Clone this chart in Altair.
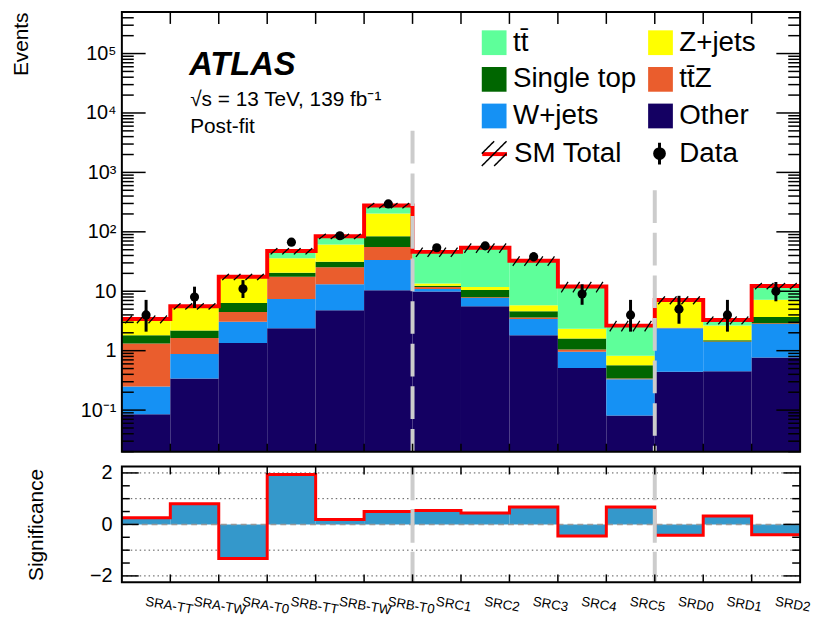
import json
import altair as alt
import pandas as pd

# ---------------- data ----------------
bins = ["SRA-TT", "SRA-TW", "SRA-T0", "SRB-TT", "SRB-TW", "SRB-T0", "SRC1",
        "SRC2", "SRC3", "SRC4", "SRC5", "SRD0", "SRD1", "SRD2"]
other      = [0.085, 0.34, 1.35, 2.38, 4.77, 10.4, 9.9, 5.6, 1.81, 0.51, 0.081, 0.44, 0.45, 0.77]
wjets      = [0.165, 0.54, 1.72, 5.0, 8.4, 23.1, 1.0, 2.1, 1.6, 0.45, 0.25, 1.94, 0.95, 2.03]
ttz        = [1.07, 0.75, 1.41, 10.1, 12.2, 22.0, 0.9, 0.25, 0.2, 0.09, 0.01, 0.02, 0.03, 0.1]
single_top = [0.49, 0.55, 1.87, 3.0, 6.1, 28.5, 0.6, 2.55, 1.0, 0.55, 0.23, 0.02, 0.07, 0.8]
zjets      = [1.54, 3.32, 10.95, 15.5, 29.5, 119.0, 1.1, 1.3, 1.2, 0.73, 0.25, 4.5, 1.14, 3.5]
ttbar      = [0.05, 0.1, 0.2, 11.5, 23.0, 74.0, 32.5, 42.2, 26.9, 9.67, 1.82, 0.2, 0.63, 5.1]
sm_rel_unc = [0.15, 0.12, 0.12, 0.12, 0.10, 0.10, 0.18, 0.18, 0.18, 0.2, 0.2, 0.15, 0.15, 0.12]
data_obs   = [4, 8, 11, 67, 86, 295, 54, 58, 38, 9, 4, 5, 4, 10]
data_lo    = [2.09, 5.23, 7.71, 58.8, 76.8, 278.0, 46.7, 50.4, 31.9, 5.92, 2.09, 2.84, 2.09, 6.78]
data_hi    = [7.16, 11.94, 15.41, 76.2, 96.3, 313.0, 62.4, 66.7, 45.2, 13.1, 7.16, 8.38, 7.16, 14.3]
significance = [0.26, 0.8, -1.32, 1.94, 0.19, 0.5, 0.54, 0.44, 0.68, -0.45, 0.68, -0.42, 0.33, -0.4]
separator_pos = [6, 11]
separator_top = [5000, 500]

stack_order = ["Other", "W+jets", "tt\u0304Z", "Single top", "Z+jets", "tt\u0304"]
stack_vals = [other, wjets, ttz, single_top, zjets, ttbar]
legend_order = ["tt\u0304", "Z+jets", "Single top", "tt\u0304Z", "W+jets", "Other"]
legend_colors = ["#5EFF9A", "#FFFF00", "#006600", "#EA5D2D", "#1591F4", "#140062"]

FONT = "Liberation Sans"
W, H, H2 = 685, 444, 117
YMIN, YMAX = 0.02, 5e5

# ---------------- tables ----------------
rows = []
totals = []
for i, b in enumerate(bins):
    base = 0.0
    for proc, vals in zip(stack_order, stack_vals):
        top = base + vals[i]
        rows.append(dict(bin=b, x0=i, x1=i + 1, y0=base if base > 0 else 1e-4, y1=top, process=proc))
        base = top
    totals.append(base)
stack_df = pd.DataFrame(rows)

step_df = pd.DataFrame({"x": list(range(len(bins) + 1)),
                        "y": totals + [totals[-1]],
                        "lbl": "SM Total"})

hatch_rows = []
for i, t in enumerate(totals):
    for k in range(4):
        xa = i + 0.07 + 0.24 * k
        hatch_rows.append(dict(xa=xa, xb=xa + 0.14, ya=t * (1 - sm_rel_unc[i]),
                               yb=t * (1 + sm_rel_unc[i]), lbl_h="SM Total hatch"))
hatch_df = pd.DataFrame(hatch_rows)

data_df = pd.DataFrame({"x": [i + 0.5 for i in range(len(bins))], "n": data_obs,
                        "lo": data_lo, "hi": data_hi, "lbl_d": "Data"})

sep_df = pd.DataFrame({"x": separator_pos, "top": separator_top, "bottom": [YMIN] * 2})

sig_df = pd.DataFrame({"x0": list(range(len(bins))), "x1": [i + 1 for i in range(len(bins))],
                       "zero": 0.0, "sig": significance})
sig_step = pd.DataFrame({"x": list(range(len(bins) + 1)), "y": significance + [significance[-1]]})

one = pd.DataFrame({"a": [0]})

xs = alt.Scale(domain=[0, len(bins)], nice=False, zero=False)
ys = alt.Scale(type="log", domain=[YMIN, YMAX], nice=False, clamp=True)
ys2 = alt.Scale(domain=[-2.25, 2.25], nice=False, zero=False)

major = [0.1, 1, 10, 100, 1e3, 1e4, 1e5]
minor = [m * 10 ** k for k in range(-2, 6) for m in range(2, 10) if YMIN <= m * 10 ** k <= YMAX]
edges = list(range(1, len(bins)))

label_expr = ("datum.value < 0.5 ? '10\u207b\u00b9' : datum.value < 5 ? '1' : datum.value < 50 ? '10' : "
              "datum.value < 500 ? '10\u00b2' : datum.value < 5000 ? '10\u00b3' : "
              "datum.value < 50000 ? '10\u2074' : '10\u2075'")

# shared axis definitions (identical in every layer so they merge)
y_axis_main = alt.Axis(
    values=major, labelExpr=label_expr, ticks=False, domain=False, grid=False,
    labelFontSize=20, labelPadding=6, title="Events", titleFontSize=21,
    titleFontWeight="normal", titleAngle=270, titleAlign="right", titleBaseline="middle",
    titleX=-101, titleY=0)
y_axis_sig = alt.Axis(
    values=[-2, 0, 2], ticks=False, domain=False, grid=False, labelFontSize=20,
    labelPadding=10, title="Significance", titleFontSize=21, titleFontWeight="normal",
    titleAngle=270, titleAlign="center", titleBaseline="middle", titleX=-86, titleY=H2 / 2)
x_axis_sig = alt.Axis(
    values=[i + 0.5 for i in range(len(bins))],
    labelExpr=json.dumps(bins) + "[floor(datum.value)]",
    labelAngle=10, labelAlign="left", labelBaseline="top", labelPadding=12,
    labelFontSize=13.5, labelOverlap=False, labelFlush=False, labelBound=False,
    ticks=False, domain=False, grid=False, title=None)


def yticks(vals, scale, axis, length, width):
    df = pd.DataFrame({"v": vals})
    left = alt.Chart(df).mark_rule(color="black", strokeWidth=1.5).encode(
        y=alt.Y("v:Q", scale=scale, axis=axis), x=alt.value(0), x2=alt.value(length))
    right = alt.Chart(df).mark_rule(color="black", strokeWidth=1.5).encode(
        y=alt.Y("v:Q", scale=scale, axis=axis), x=alt.value(width), x2=alt.value(width - length))
    return [left, right]


def xticks(height, top_len, bot_len, axis):
    df = pd.DataFrame({"e": edges})
    top = alt.Chart(df).mark_rule(color="black", strokeWidth=1.5).encode(
        x=alt.X("e:Q", scale=xs, axis=axis), y=alt.value(0), y2=alt.value(top_len))
    bot = alt.Chart(df).mark_rule(color="black", strokeWidth=1.5).encode(
        x=alt.X("e:Q", scale=xs, axis=axis), y=alt.value(height), y2=alt.value(height - bot_len))
    return [top, bot]


def frame(height):
    return alt.Chart(one).mark_rect(filled=False, stroke="black", strokeWidth=2).encode(
        x=alt.value(0), x2=alt.value(W), y=alt.value(0), y2=alt.value(height))


# ---------------- main panel ----------------
stack = alt.Chart(stack_df).mark_rect(strokeWidth=0).encode(
    x=alt.X("x0:Q", scale=xs, axis=None), x2="x1:Q",
    y=alt.Y("y0:Q", scale=ys, axis=y_axis_main), y2="y1:Q",
    color=alt.Color("process:N", scale=alt.Scale(domain=legend_order, range=legend_colors),
                    legend=alt.Legend(title=None, orient="none", legendX=362, legendY=17, columns=2,
                                      direction="horizontal",
                                      symbolType="square", symbolSize=625, symbolStrokeWidth=0,
                                      symbolOpacity=1, labelFontSize=28, rowPadding=9,
                                      columnPadding=10, labelOffset=5, padding=0, labelLimit=400)))

total_line = alt.Chart(step_df).mark_line(interpolate="step-after", strokeWidth=4).encode(
    x=alt.X("x:Q", scale=xs, axis=None), y=alt.Y("y:Q", scale=ys, axis=y_axis_main),
    stroke=alt.Stroke("lbl:N", scale=alt.Scale(domain=["SM Total"], range=["#FF0000"]),
                      legend=alt.Legend(title=None, orient="none", legendX=362, legendY=129,
                                        symbolType="stroke", symbolSize=625, symbolStrokeWidth=4,
                                        labelFontSize=28, labelOffset=5, padding=0)))

seps = alt.Chart(sep_df).mark_rule(color="#CCCCCC", strokeWidth=4, strokeDash=[33, 10]).encode(
    x=alt.X("x:Q", scale=xs, axis=None), y=alt.Y("top:Q", scale=ys, axis=y_axis_main), y2="bottom:Q")

hatch = alt.Chart(hatch_df).mark_rule(color="black", strokeWidth=1.3).encode(
    x=alt.X("xa:Q", scale=xs, axis=None), x2="xb:Q",
    y=alt.Y("ya:Q", scale=ys, axis=y_axis_main), y2="yb:Q",
    strokeDash=alt.StrokeDash("lbl_h:N", scale=alt.Scale(domain=["SM Total hatch"], range=[[1, 0]]),
                              legend=alt.Legend(title=None, orient="none", legendX=362, legendY=129,
                                                symbolType="M-1,0L0,-1M-1,1L1,-1M0,1L1,0",
                                                symbolSize=625, symbolStrokeColor="black",
                                                symbolFillColor="transparent", symbolStrokeWidth=1.5,
                                                labelExpr="''", labelFontSize=28, labelOffset=5,
                                                padding=0)))

errbars = alt.Chart(data_df).mark_rule(color="black").encode(
    x=alt.X("x:Q", scale=xs, axis=None), y=alt.Y("lo:Q", scale=ys, axis=y_axis_main), y2="hi:Q",
    strokeWidth=alt.StrokeWidth("lbl_d:N", scale=alt.Scale(domain=["Data"], range=[3, 3]),
                                legend=alt.Legend(title=None, orient="none", legendX=529, legendY=129,
                                                  symbolType="M0,-1L0,1M0.45,0A0.45,0.45,0,1,1,-0.45,0A0.45,0.45,0,1,1,0.45,0Z",
                                                  symbolSize=484, symbolFillColor="black",
                                                  symbolStrokeColor="black", labelFontSize=28,
                                                  labelOffset=6, padding=0)))

points = alt.Chart(data_df).mark_circle(color="black", size=85, opacity=1).encode(
    x=alt.X("x:Q", scale=xs, axis=None), y=alt.Y("n:Q", scale=ys, axis=y_axis_main))

txt_atlas = alt.Chart(pd.DataFrame({"t": ["ATLAS"]})).mark_text(
    align="left", baseline="alphabetic", font=FONT, fontSize=33, fontStyle="italic",
    fontWeight="bold", color="black").encode(x=alt.value(68), y=alt.value(64), text="t:N")
txt_info = alt.Chart(pd.DataFrame({"t": ["\u221as = 13 TeV, 139 fb\u207b\u00b9"]})).mark_text(
    align="left", baseline="alphabetic", font=FONT, fontSize=21, color="black").encode(
    x=alt.value(69), y=alt.value(95), text="t:N")
txt_fit = alt.Chart(pd.DataFrame({"t": ["Post-fit"]})).mark_text(
    align="left", baseline="alphabetic", font=FONT, fontSize=21, color="black").encode(
    x=alt.value(69), y=alt.value(122), text="t:N")

main = alt.layer(
    stack, total_line, seps, hatch, errbars, points,
    *yticks(major, ys, y_axis_main, 24, W), *yticks(minor, ys, y_axis_main, 12, W),
    *xticks(H, 12, 8, None),
    frame(H), txt_atlas, txt_info, txt_fit
).properties(width=W, height=H)

# ---------------- significance panel ----------------
grid_df = pd.DataFrame({"g": [-2, -1, 1, 2]})
grid = alt.Chart(grid_df).mark_rule(color="#555555", strokeWidth=1, strokeDash=[1.5, 3]).encode(
    y=alt.Y("g:Q", scale=ys2, axis=y_axis_sig), x=alt.value(0), x2=alt.value(W))

bars = alt.Chart(sig_df).mark_rect(color="#3498CB", strokeWidth=0).encode(
    x=alt.X("x0:Q", scale=xs, axis=x_axis_sig), x2="x1:Q",
    y=alt.Y("zero:Q", scale=ys2, axis=y_axis_sig), y2="sig:Q")

zero_line = alt.Chart(pd.DataFrame({"z": [0]})).mark_rule(
    color="#999999", strokeWidth=1.5, strokeDash=[6, 4]).encode(
    y=alt.Y("z:Q", scale=ys2, axis=y_axis_sig), x=alt.value(0), x2=alt.value(W))

sig_line = alt.Chart(sig_step).mark_line(interpolate="step-after", strokeWidth=3, color="#FF0000").encode(
    x=alt.X("x:Q", scale=xs, axis=x_axis_sig), y=alt.Y("y:Q", scale=ys2, axis=y_axis_sig))

sep2_df = pd.DataFrame({"x": separator_pos, "top": [2.25, 2.25], "bottom": [-2.25, -2.25]})
seps2 = alt.Chart(sep2_df).mark_rule(color="#CCCCCC", strokeWidth=4, strokeDash=[34, 9]).encode(
    x=alt.X("x:Q", scale=xs, axis=x_axis_sig), y=alt.Y("top:Q", scale=ys2, axis=y_axis_sig), y2="bottom:Q")

lower = alt.layer(
    grid, bars, zero_line, sig_line, seps2,
    *yticks([-2, 0, 2], ys2, y_axis_sig, 17, W),
    *yticks([-1.5, -1, -0.5, 0.5, 1, 1.5], ys2, y_axis_sig, 8, W),
    *xticks(H2, 8, 8, x_axis_sig), frame(H2)
).properties(width=W, height=H2)

chart = alt.vconcat(main, lower, spacing=15, bounds="flush").resolve_legend(
    color="independent", stroke="independent", strokeDash="independent", strokeWidth="independent"
).properties(
    padding={"top": 0, "left": 3, "right": 0, "bottom": 2}
).configure(font=FONT).configure_view(strokeWidth=0).configure_axis(
    labelColor="black", titleColor="black", labelFont=FONT, titleFont=FONT
).configure_legend(labelFont=FONT, labelColor="black")

chart.save("out.html", embed_options={"renderer": "svg", "actions": False})
